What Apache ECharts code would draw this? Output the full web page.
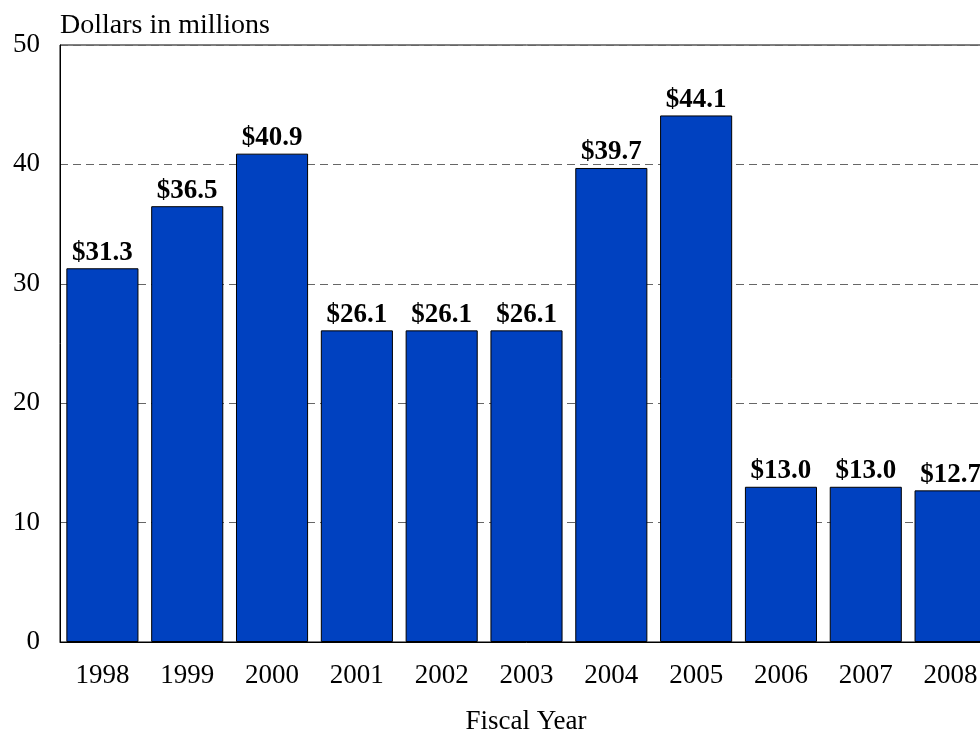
<!DOCTYPE html>
<html><head><meta charset="utf-8">
<script src="https://cdn.jsdelivr.net/npm/echarts@6/dist/echarts.min.js"></script>
<style>html,body{margin:0;padding:0;background:#fff;overflow:hidden;width:980px;height:734px}#c{width:995px;height:734px}</style>
</head><body><div id="c"></div>
<script>
var categories = ['1998','1999','2000','2001','2002','2003','2004','2005','2006','2007','2008'];
var values = [31.3, 36.5, 40.9, 26.1, 26.1, 26.1, 39.7, 44.1, 13.0, 13.0, 12.7];
var yTicks = [0, 10, 20, 30, 40, 50];
var font = '"Liberation Serif", "Times New Roman", serif';
var chart = echarts.init(document.getElementById('c'));
chart.setOption({
  animation: false,
  backgroundColor: '#fff',
  grid: { left: 60, top: 45, right: 2, bottom: 92, show: true, borderColor: '#000', borderWidth: 1, backgroundColor: 'transparent' },
  graphic: [
    { type: 'text', left: 60, top: 12, style: { text: 'Dollars in millions', font: '28px ' + font, fill: '#000' } },
    { type: 'text', x: 526, y: 722, style: { text: 'Fiscal Year', font: '27px ' + font, fill: '#000', align: 'center', verticalAlign: 'middle' } }
  ],
  xAxis: {
    type: 'category', data: categories,
    axisLine: { show: true, lineStyle: { color: '#000', width: 1 } },
    axisTick: { show: false },
    axisLabel: { color: '#000', fontFamily: font, fontSize: 27, margin: 20 }
  },
  yAxis: {
    type: 'value', min: 0, max: 50, interval: 10,
    axisLine: { show: true, lineStyle: { color: '#000', width: 1 } },
    axisTick: { show: false },
    axisLabel: { color: '#000', fontFamily: font, fontSize: 27, margin: 20,
      formatter: function (v) { return yTicks.indexOf(v) >= 0 ? String(v) : ''; } },
    splitLine: { show: true, lineStyle: { color: '#666', type: [8, 5], width: 1 } }
  },
  series: [{
    type: 'bar', data: values, barCategoryGap: '15%',
    itemStyle: { color: '#0041C0', borderColor: '#000', borderWidth: 1 },
    label: { show: true, position: 'top', distance: 2, color: '#000', fontFamily: font, fontSize: 27, fontWeight: 'bold',
      formatter: function (p) { return '$' + p.value.toFixed(1); } }
  }]
});
</script></body></html>
